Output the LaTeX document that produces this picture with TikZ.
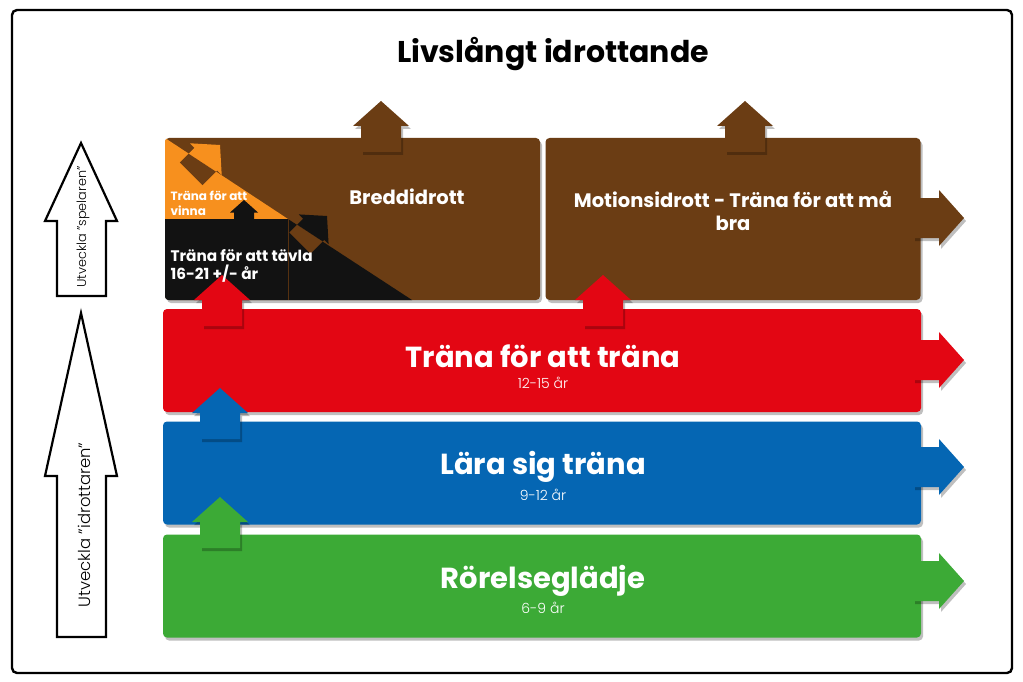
\documentclass[tikz,border=0pt]{standalone}
\usepackage{fontspec}
\setmainfont{Poppins}
\newfontfamily\thinfont{Poppins Light}
\usetikzlibrary{shadows,positioning}
\definecolor{brownbox}{HTML}{6B3D14}
\definecolor{redbar}{HTML}{E30613}
\definecolor{bluebar}{HTML}{0566B3}
\definecolor{greenbar}{HTML}{3CAA36}
\definecolor{orangetri}{HTML}{F7901E}
\definecolor{blacktri}{HTML}{121212}

\tikzset{
  shade me/.style={drop shadow={shadow xshift=2pt,shadow yshift=-3pt,opacity=.25,fill=black}},
  bar/.style={rounded corners=4pt,minimum width=758pt,minimum height=103pt,
    inner sep=0pt,shade me},
  bigbox/.style={rounded corners=4pt,minimum width=375pt,minimum height=162pt,
    inner sep=0pt,shade me,fill=brownbox},
  bartitle/.style={text=white,font=\bfseries\fontsize{29}{32}\selectfont},
  barage/.style={text=white,font=\thinfont\fontsize{14}{16}\selectfont},
  boxtext/.style={text=white,font=\bfseries\fontsize{19.5}{23}\selectfont,align=center},
  pics/blockarrow/.style={code={
    \fill[#1,shade me] (0,0) -- (28,25) -- (20,25) -- (20,51) -- (-20,51)
      -- (-20,25) -- (-28,25) -- cycle;}},
  pics/flatarrow/.style={code={
    \fill[#1] (0,0) -- (28,25) -- (20,25) -- (20,51) -- (-20,51)
      -- (-20,25) -- (-28,25) -- cycle;}},
}

\begin{document}
\begin{tikzpicture}[x=1pt,y=-1pt]
\useasboundingbox[fill=white] (0,0) rectangle (1023,682);
\draw[line width=2.4pt,rounded corners=5pt] (12,10) rectangle (1012,673);

\node[font=\bfseries\fontsize{30}{34}\selectfont] (title) at (553,54) {Livslångt idrottande};

% staplarna
\node[bar,fill=greenbar] (rorelse) at (542,586) {};
\node[bar,fill=bluebar] (lara) at (542,473) {};
\node[bar,fill=redbar] (trana) at (542,360.5) {};
\node[bigbox] (bredd) at (352.5,219) {};
\node[bigbox] (motion) at (733,219) {};

% trianglarna i breddidrott
\begin{scope}
\clip[rounded corners=4pt] (bredd.north west) rectangle (bredd.south east);
\fill[orangetri] (165,138) -- (288,219) -- (165,219) -- cycle;
\fill[blacktri] (165,219) -- (288,219) -- (412,300) -- (165,300) -- cycle;
\draw[brownbox!80!black,thin] (288,219) -- (288,300);
\end{scope}

% pilar uppat
\pic at (220,497) {blockarrow=greenbar};
\pic at (220,388) {blockarrow=bluebar};
\pic at (222,275) {blockarrow=redbar};
\pic at (603,275) {blockarrow=redbar};
\pic at (381,101) {blockarrow=brownbox};
\pic at (745,101) {blockarrow=brownbox};
\pic[scale=0.5] at (244,200) {flatarrow=blacktri};

% pilar at hoger
\pic[rotate=-90] at (964,218) {blockarrow=brownbox};
\pic[rotate=-90] at (964,360) {blockarrow=redbar};
\pic[rotate=-90] at (964,467) {blockarrow=bluebar};
\pic[rotate=-90] at (964,581) {blockarrow=greenbar};

% sneda pilar over diagonalen
\begin{scope}
\clip (165,138) -- (165,219) -- (288,219) -- cycle;
\pic[scale=0.8,rotate=-45] at (220,145) {flatarrow=brownbox};
\end{scope}
\begin{scope}
\clip (165,138) -- (540,138) -- (540,300) -- (412,300) -- cycle;
\pic[scale=0.8,rotate=-45] at (220,145) {flatarrow=orangetri};
\pic[scale=0.75,rotate=-45] at (327,216) {flatarrow=blacktri};
\end{scope}
\begin{scope}
\clip (165,219) -- (288,219) -- (412,300) -- (165,300) -- cycle;
\pic[scale=0.75,rotate=-45] at (327,216) {flatarrow=brownbox};
\end{scope}

% texter
\node[bartitle] (tranatitle) at (543,356) {Träna för att träna};
\node[barage] (tranaage) at (543,383) {12-15 år};
\node[bartitle] (laratitle) at (543,467) {Lära sig träna};
\node[barage] (laraage) at (543,495) {9-12 år};
\node[bartitle] (rorelsetitle) at (543,581) {Rörelseglädje};
\node[barage] (rorelseage) at (543,608) {6-9 år};
\node[boxtext] (breddtext) at (407,197) {Breddidrott};
\node[boxtext] (motiontext) at (733,211) {Motionsidrott - Träna för att må\\bra};
\node[text=white,font=\bfseries\fontsize{12}{15}\selectfont,align=left,
  anchor=west] (vinna) at (167,203.5) {Träna för att\\vinna};
\node[text=white,font=\bfseries\fontsize{15.3}{18}\selectfont,align=left,
  anchor=west] (tavla) at (167,266) {Träna för att tävla\\16-21 +/- år};

% pilarna till vanster
\draw[line width=2.2pt,fill=white] (81,143) -- (117,221) -- (106,221) -- (106,296)
  -- (57,296) -- (57,221) -- (45,221) -- cycle;
\draw[line width=2.2pt,fill=white] (81,313) -- (117,476) -- (106,476) -- (106,637)
  -- (57,637) -- (57,476) -- (45,476) -- cycle;
\node[rotate=90,font=\thinfont\fontsize{12.8}{14}\selectfont] (spelaren) at (83,227) {Utveckla ”spelaren”};
\node[rotate=90,font=\thinfont\fontsize{16.4}{18}\selectfont] (idrottaren) at (84,525) {Utveckla ”idrottaren”};
\end{tikzpicture}
\end{document}
